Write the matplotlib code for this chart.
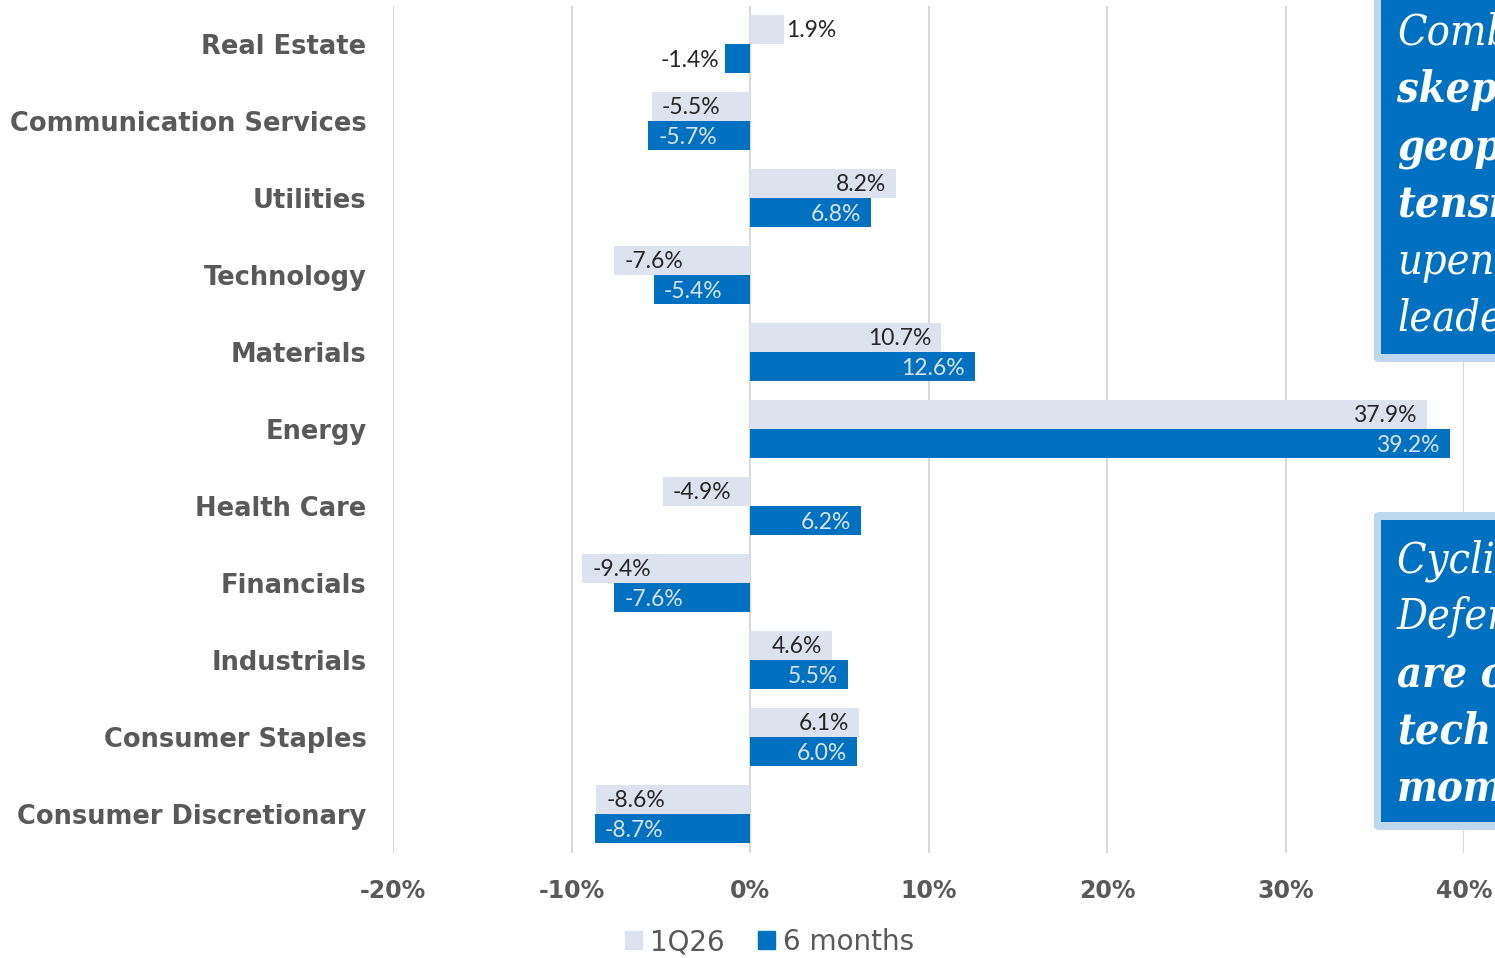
import numpy as np
import matplotlib.pyplot as plt
from matplotlib.patches import FancyBboxPatch, Rectangle, Patch

# sector returns, %
sectors = ['Real Estate', 'Communication Services', 'Utilities', 'Technology',
           'Materials', 'Energy', 'Health Care', 'Financials', 'Industrials',
           'Consumer Staples', 'Consumer Discretionary']
q1_26 = [1.9, -5.5, 8.2, -7.6, 10.7, 37.9, -4.9, -9.4, 4.6, 6.1, -8.6]
six_months = [-1.4, -5.7, 6.8, -5.4, 12.6, 39.2, 6.2, -7.6, 5.5, 6.0, -8.7]
series_names = ['1Q26', '6 months']
x_ticks = [-20, -10, 0, 10, 20, 30, 40]

# callout boxes: (text, bold) per line
box1_lines = [('Combining', False), ('skepticism,', True), ('geopolitical', True),
              ('tensions', True), ('upend', False), ('leadership', False)]
box2_lines = [('Cyclicals and', False), ('Defensives', False), ('are overtaking', True),
              ('tech', True), ('momentum', True)]

LIGHT = '#dce3ef'
DARK = '#0070c0'
GRID = '#d9d9d9'
LABEL_GRAY = '#595959'

W, H = 1495, 958
fig = plt.figure(figsize=(W / 100, H / 100), dpi=100)
ax = fig.add_axes([393 / W, 1 - 852.5 / H, (1464 - 393) / W, (852.5 - 5.5) / H])

y = np.arange(len(sectors))
bh = 0.378
ax.barh(y - bh / 2, q1_26, height=bh, color=LIGHT, zorder=2)
ax.barh(y + bh / 2, six_months, height=bh, color=DARK, zorder=2)

ax.set_xlim(-20, 40)
ax.set_ylim(len(sectors) - 0.5, -0.5)
ax.set_xticks(x_ticks)
ax.set_xticklabels([f'{t}%' for t in x_ticks])
ax.set_yticks(y)
ax.set_yticklabels(sectors)
ax.tick_params(length=0)
ax.tick_params(axis='y', pad=19, labelsize=18.5, labelcolor=LABEL_GRAY)
ax.tick_params(axis='x', pad=19, labelsize=17, labelcolor=LABEL_GRAY)
for lab in ax.get_xticklabels() + ax.get_yticklabels():
    lab.set_fontweight('bold')
ax.grid(axis='x', color=GRID, lw=1.5, zorder=0)
for s in ax.spines.values():
    s.set_visible(False)

# value labels: inside the bar end when it fits, outside otherwise
px = 60 / (1464 - 393)  # data units per pixel
lbl_font = dict(family='Lato', weight='normal', fontsize=16.5, va='center')
for vals, off, col in [(q1_26, -bh / 2, '#262626'), (six_months, bh / 2, '#dae3f3')]:
    for i, v in enumerate(vals):
        txt = f'{v:.1f}%'
        if abs(v) < 3:
            c = '#262626'
            if v >= 0:
                ax.text(v + 2 * px, i + off + 0.02, txt, ha='left', color=c, **lbl_font)
            else:
                ax.text(v - 6 * px, i + off + 0.02, txt, ha='right', color=c, **lbl_font)
        else:
            if v >= 0:
                ax.text(v - 10 * px, i + off + 0.02, txt, ha='right', color=col, **lbl_font)
            else:
                ax.text(v + 10 * px, i + off + 0.02, txt, ha='left', color=col, **lbl_font)

# legend
handles = [Patch(color=LIGHT), Patch(color=DARK)]
fig.legend(handles, series_names, loc='center', bbox_to_anchor=(770 / W, 1 - 942 / H),
           ncol=2, frameon=False, handlelength=0.6, handleheight=0.6,
           handletextpad=0.3, columnspacing=1.2,
           prop=dict(family='DejaVu Sans', size=20), labelcolor=LABEL_GRAY)


def callout(top, bottom, lines, first_base):
    # light border, then blue body, in figure pixels
    fig.patches.append(FancyBboxPatch((1374 / W, 1 - bottom / H), 200 / W, (bottom - top) / H,
                                      boxstyle='round,pad=0,rounding_size=0.004',
                                      transform=fig.transFigure, facecolor='#bdd7ee',
                                      edgecolor='none', zorder=3))
    fig.patches.append(Rectangle((1381 / W, 1 - (bottom - 8) / H), 200 / W,
                                 (bottom - top - 16) / H, transform=fig.transFigure,
                                 facecolor=DARK, edgecolor='none', zorder=4))
    for k, (t, bold) in enumerate(lines):
        fig.text(1397 / W, 1 - (first_base + 57.3 * k) / H, t, family='DejaVu Serif',
                 stretch='condensed', style='italic', weight='bold' if bold else 'normal',
                 fontsize=31, color='white', va='baseline', ha='left', zorder=5)


callout(-20, 362, box1_lines, 45)
callout(512, 830, box2_lines, 572)

fig.savefig('out.png', dpi=100)
